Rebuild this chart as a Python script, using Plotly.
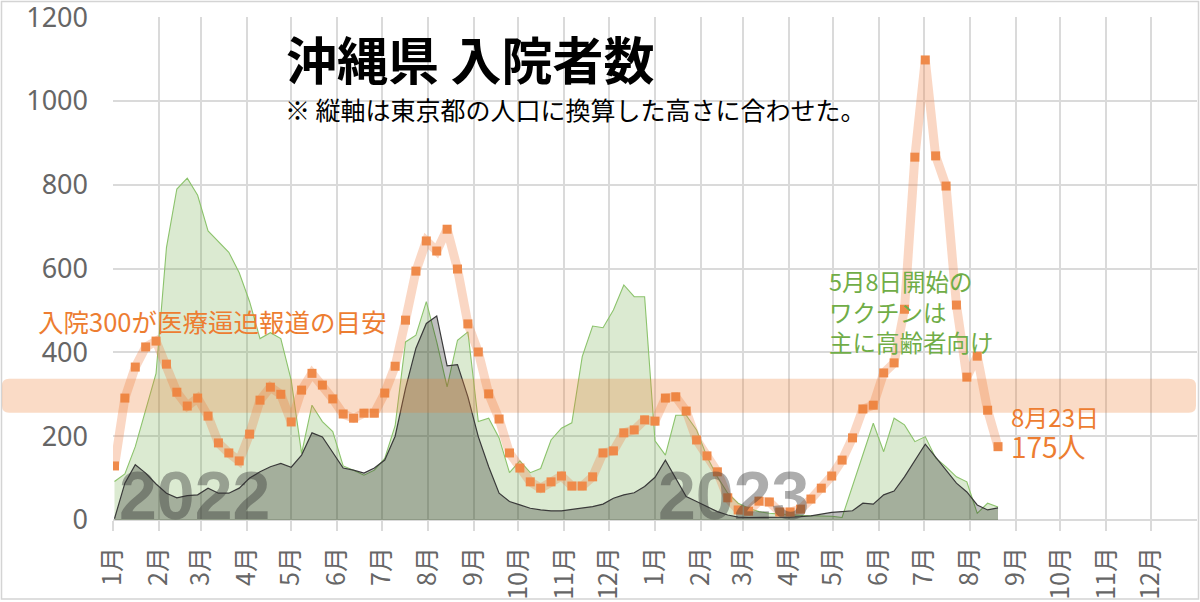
import pandas as pd
import plotly.graph_objects as go

# ======================================
# Data (weekly)
# ======================================

WEEK_START = "2022-01-02"
N_WEEKS = 86

# orange: Okinawa inpatients (scaled to Tokyo population)
inpatients = [
    129, 291, 365, 413, 427, 372, 305, 272, 291, 248,
    184, 160, 141, 205, 286, 317, 300, 234, 310, 350,
    322, 289, 253, 243, 255, 255, 303, 367, 477, 594,
    666, 642, 694, 599, 468, 401, 301, 241, 160, 124,
    91, 76, 91, 105, 81, 81, 103, 160, 165, 208,
    215, 239, 236, 291, 294, 260, 191, 153, 115, 53,
    24, 21, 45, 43, 19, 19, 26, 50, 76, 105,
    143, 196, 265, 274, 351, 375, 503, 866, 1098, 869,
    797, 513, 341, 391, 262, 175,
]

# green area
green_area = [
    92, 110, 175, 260, 350, 650, 790, 816, 775, 690,
    665, 639, 590, 521, 433, 447, 433, 334, 159, 274,
    235, 211, 129, 119, 107, 119, 147, 225, 425, 441,
    521, 425, 318, 429, 449, 235, 243, 196, 113, 141,
    113, 123, 191, 219, 232, 390, 463, 459, 501, 561,
    533, 533, 189, 155, 250, 250, 215, 151, 103, 64,
    40, 28, 20, 16, 14, 12, 11, 10, 10, 9,
    6, 80, 155, 231, 163, 243, 227, 187, 199, 148,
    127, 103, 91, 16, 40, 31,
]

# dark area
dark_area = [
    3, 88, 132, 112, 86, 64, 53, 58, 60, 76,
    64, 64, 76, 100, 115, 127, 135, 126, 155, 208,
    198, 160, 124, 119, 112, 124, 143, 200, 314, 410,
    469, 487, 368, 371, 294, 199, 127, 64, 44, 36,
    28, 24, 22, 22, 25, 28, 32, 38, 52, 60,
    65, 80, 102, 143, 99, 56, 44, 32, 20, 12,
    7, 6, 6, 6, 6, 7, 8, 10, 14, 18,
    20, 22, 40, 38, 60, 69, 103, 143, 181, 150,
    119, 88, 67, 36, 24, 29,
]

BAND_LOW = 256
BAND_HIGH = 337

month_ticks = pd.date_range("2022-01-01", "2023-12-01", freq="MS")
month_labels = [f"{m}月" for m in range(1, 13)] * 2

y_ticks = [0, 200, 400, 600, 800, 1000, 1200]

dates = pd.date_range(WEEK_START, periods=N_WEEKS, freq="7D")

ORANGE = "#ED7D31"
GREEN = "#70AD47"
GRID = "#dadada"
JP = "Noto Sans CJK JP"

# plot box in pixels (used for paper positions)
L, T, W, H = 113, 17, 1084, 503


def px(x):
    return (x - L) / W


def py(y):
    return (T + H - y) / H


fig = go.Figure()

# ======================================
# Areas
# ======================================

fig.add_trace(
    go.Scatter(
        x=dates,
        y=green_area,
        mode="lines",
        fill="tozeroy",
        fillcolor="rgba(112,173,71,0.25)",
        line=dict(color="#8cc36c", width=1.1),
    )
)

fig.add_trace(
    go.Scatter(
        x=dates,
        y=dark_area,
        mode="lines",
        fill="tozeroy",
        fillcolor="rgba(0,0,0,0.25)",
        line=dict(color="#3a3a3a", width=1.2),
    )
)

# ======================================
# Inpatients
# ======================================

fig.add_trace(
    go.Scatter(
        x=dates,
        y=inpatients,
        mode="lines+markers",
        line=dict(color="rgba(240,130,70,0.32)", width=9),
        marker=dict(symbol="square", size=9, color="#EF8A4A"),
    )
)

# ======================================
# Band (300 line) and frame
# ======================================

x0, x1 = px(2), px(1196)
rx = 7 / W
ry = 7 / (H / 1200)
band_path = (
    f"M {x0 + rx},{BAND_LOW} L {x1 - rx},{BAND_LOW} "
    f"Q {x1},{BAND_LOW} {x1},{BAND_LOW + ry} "
    f"L {x1},{BAND_HIGH - ry} Q {x1},{BAND_HIGH} {x1 - rx},{BAND_HIGH} "
    f"L {x0 + rx},{BAND_HIGH} Q {x0},{BAND_HIGH} {x0},{BAND_HIGH - ry} "
    f"L {x0},{BAND_LOW + ry} Q {x0},{BAND_LOW} {x0 + rx},{BAND_LOW} Z"
)

fig.add_shape(
    type="path",
    path=band_path,
    xref="paper",
    yref="y",
    fillcolor="rgba(237,125,49,0.28)",
    line=dict(width=0),
    layer="above",
)

fig.add_shape(
    type="rect",
    xref="paper",
    yref="paper",
    x0=px(1.5),
    x1=px(1198.5),
    y0=py(599),
    y1=py(1.5),
    line=dict(color="#d4d4d4", width=1.5),
    layer="below",
)

# ======================================
# Texts
# ======================================

notes = [
    dict(text="<b>沖縄県 入院者数</b>", x=284, y=58, size=51, color="black"),
    dict(text="※ 縦軸は東京都の人口に換算した高さに合わせた。", x=283, y=109, size=25, color="black"),
    dict(text="入院300が医療逼迫報道の目安", x=36, y=320, size=25.5, color=ORANGE),
    dict(text="5月8日開始の<br>ワクチンは<br>主に高齢者向け", x=827, y=311, size=23.5, color=GREEN),
    dict(text="8月23日<br><span style='font-size:28px'>175人</span>", x=1009, y=432, size=24, color=ORANGE),
]

for n in notes:
    fig.add_annotation(
        text=n["text"],
        x=px(n["x"]),
        y=py(n["y"]),
        xref="paper",
        yref="paper",
        xanchor="left",
        yanchor="middle",
        align="left",
        showarrow=False,
        font=dict(family=JP, size=n["size"], color=n["color"]),
    )

for label, cx in [("2022", 194), ("2023", 733)]:
    fig.add_annotation(
        text=f"<b>{label}</b>",
        x=px(cx),
        y=py(495),
        xref="paper",
        yref="paper",
        xanchor="center",
        yanchor="middle",
        showarrow=False,
        font=dict(family="Liberation Sans", size=68, color="rgba(50,50,50,0.4)"),
    )

# ======================================
# Axes / layout
# ======================================

fig.update_layout(
    width=1200,
    height=602,
    margin=dict(l=L, r=1200 - L - W, t=T, b=602 - T - H),
    paper_bgcolor="white",
    plot_bgcolor="white",
    showlegend=False,
    xaxis=dict(
        type="date",
        range=["2022-01-01", "2024-01-01"],
        tickmode="array",
        tickvals=list(month_ticks),
        ticktext=month_labels,
        tickangle=-90,
        ticks="outside",
        ticklen=10,
        tickcolor=GRID,
        tickwidth=1.5,
        showgrid=True,
        gridcolor=GRID,
        gridwidth=1.5,
        showline=False,
        zeroline=False,
        automargin=False,
        ticklabelstandoff=6,
        ticklabeloverflow="allow",
        tickfont=dict(family=JP, size=25, color="#666666"),
    ),
    yaxis=dict(
        range=[0, 1200.5],
        tickvals=y_ticks,
        showgrid=True,
        gridcolor=GRID,
        gridwidth=1.5,
        zeroline=True,
        zerolinecolor=GRID,
        zerolinewidth=1.5,
        showline=False,
        automargin=False,
        ticklabelstandoff=24,
        ticklabeloverflow="allow",
        tickfont=dict(family="Noto Sans", size=27, color="#666666"),
    ),
)

# the page body has a default 8px margin; drop it so the figure sits at 0,0
fig.write_html(
    "out.html",
    config={"displayModeBar": False},
    post_script="document.body.style.margin='0';",
)
